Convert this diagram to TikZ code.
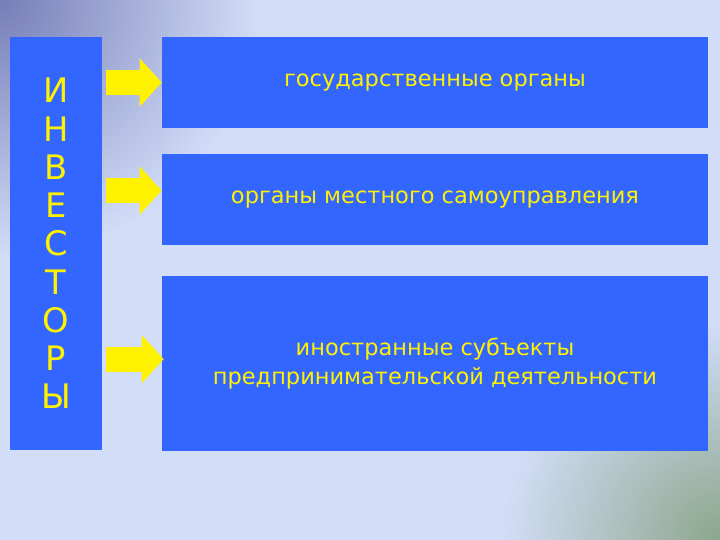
\documentclass[tikz,border=0pt]{standalone}
\usepackage{fontspec}
\setmainfont{DejaVu Sans}
\usepackage{xcolor}
\definecolor{boxblue}{RGB}{51,102,255}
\definecolor{bgblue}{RGB}{210,222,248}
\definecolor{cornerdark}{RGB}{118,126,184}
\definecolor{cornergreen}{RGB}{140,166,140}
\usepackage{tikz}
\usetikzlibrary{arrows.meta,positioning,calc}
\newcommand{\arw}[2]{\draw[pointer] (#1) -- (#2)}

\begin{document}
\begin{tikzpicture}[
      pointer/.style={yellow,line width=0.625cm,shorten <=0.1cm,-{Triangle[length=0.55cm,width=1.175cm]}},
      panel/.style={rectangle,fill=boxblue,inner sep=0pt,align=center,text=yellow,font=\fontsize{16}{21}\selectfont},
      stack/.style={panel,font=\fontsize{24}{27.2}\selectfont}]

      % Background
      \useasboundingbox (0,0) rectangle (18,13.5);
      \fill[bgblue] (0,0) rectangle (18,13.5);
      \begin{scope}
        \clip (0,0) rectangle (18,13.5);
        \shade[inner color=cornerdark,outer color=bgblue] (0,13.5) circle (6.5cm);
        \shade[inner color=cornergreen,outer color=bgblue] (18,0) circle (5.5cm);
      \end{scope}

      % Define nodes
      \node[stack,minimum width=2.3cm,minimum height=10.325cm] (inv) at (1.4,7.4125)
        {И\\Н\\В\\Е\\С\\Т\\О\\Р\\Ы};
      \node[panel,minimum width=13.65cm,minimum height=2.275cm] (b1) at (10.875,11.4375)
        {государственные органы};
      \node[panel,minimum width=13.65cm,minimum height=2.275cm,below=0.625cm of b1] (b2)
        {органы местного самоуправления};
      \node[panel,minimum width=13.65cm,minimum height=4.375cm,below=0.775cm of b2] (b3)
        {иностранные субъекты\\предпринимательской деятельности};

      \coordinate (t1) at (b1.west);
      \coordinate (t2) at ([yshift=0.2125cm]b2.west);
      \coordinate (t3) at ([yshift=0.1125cm,xshift=0.05cm]b3.west);

      % Draw paths
      \arw{inv.east |- t1}{t1};
      \arw{inv.east |- t2}{t2};
      \arw{inv.east |- t3}{t3};

\end{tikzpicture}
\end{document}
